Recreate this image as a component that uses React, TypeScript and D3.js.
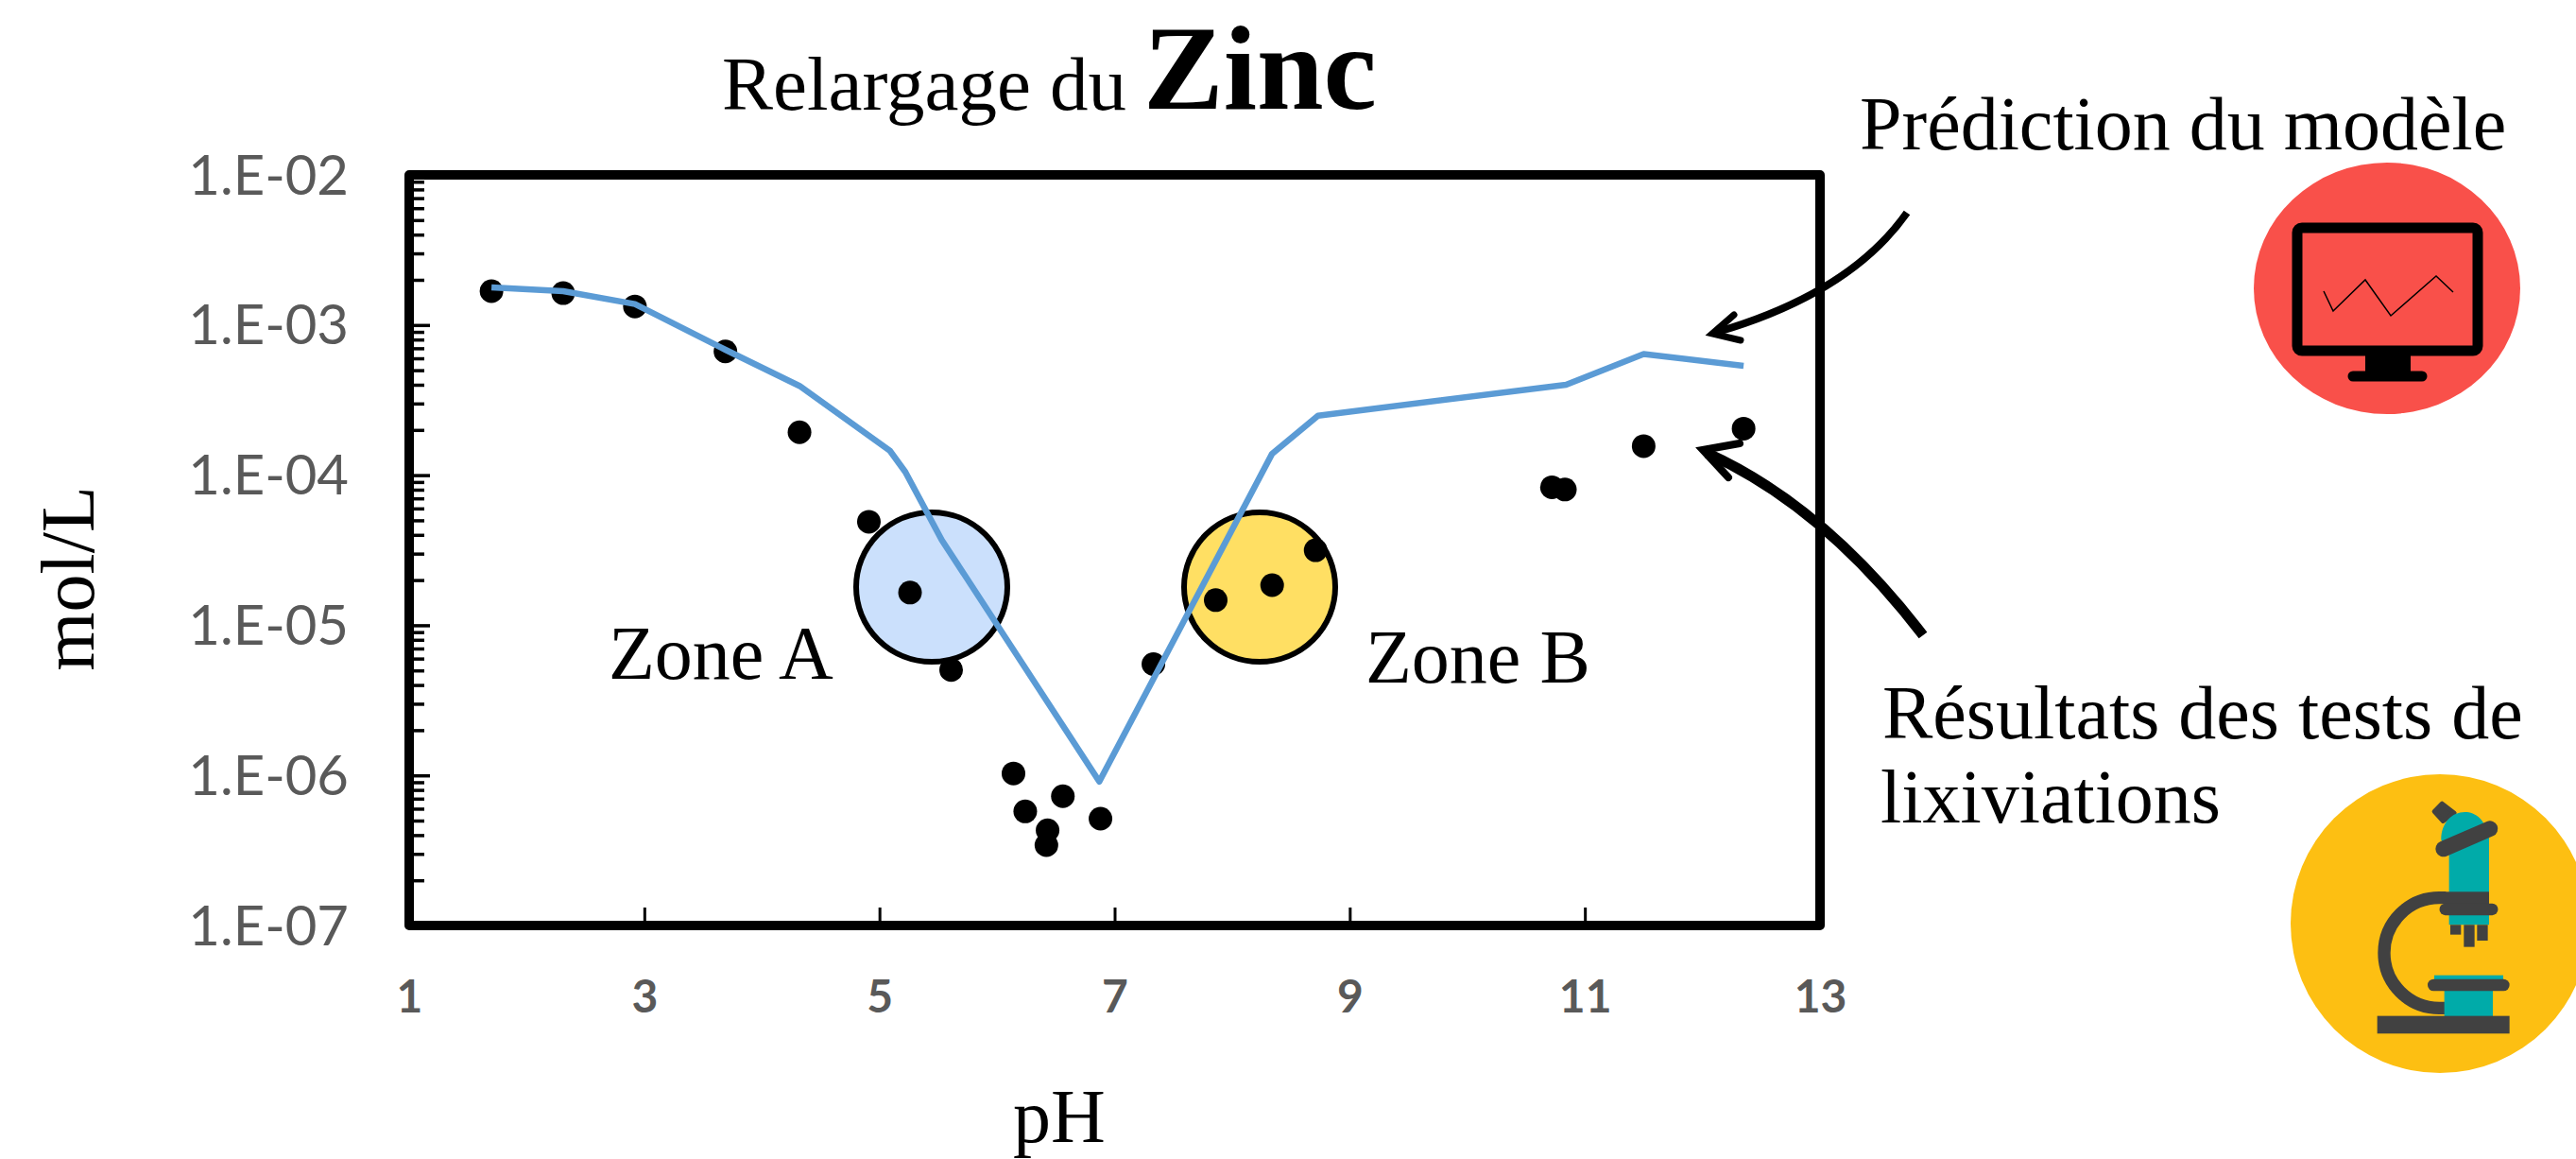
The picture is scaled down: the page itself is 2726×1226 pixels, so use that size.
import { useEffect, useRef } from 'react';
import * as d3 from 'd3';

const W = 2726;
const H = 1226;

// model line (pH, mol/L)
const modelPh = [1.70, 2.31, 2.92, 3.69, 4.32, 5.09, 5.22, 5.53, 6.87, 8.34, 8.73, 10.84, 11.50, 12.35];
const modelConc = [1.78e-3, 1.68e-3, 1.38e-3, 6.84e-4, 3.93e-4, 1.45e-4, 1.05e-4, 3.7e-5, 9.1e-7, 1.39e-4, 2.49e-4, 4.0e-4, 6.4e-4, 5.35e-4];

// leaching tests, drawn under the zone circles
const testPh = [1.70, 2.31, 2.92, 3.69, 4.32, 4.91, 5.61, 6.14, 6.24, 6.43, 6.42, 6.56, 6.88, 7.33, 10.72, 10.83, 11.50, 12.35];
const testConc = [1.68e-3, 1.63e-3, 1.33e-3, 6.67e-4, 1.93e-4, 4.89e-5, 5.04e-6, 1.03e-6, 5.75e-7, 4.31e-7, 3.43e-7, 7.26e-7, 5.15e-7, 5.51e-6, 8.3e-5, 8.02e-5, 1.56e-4, 2.04e-4];

// leaching tests sitting on top of the zone circles
const zoneTestPh = [5.26, 7.86, 8.34, 8.71];
const zoneTestConc = [1.65e-5, 1.47e-5, 1.85e-5, 3.16e-5];

const xTicks = [1, 3, 5, 7, 9, 11, 13];

const serif = '"Liberation Serif", serif';
const tickGrey = '#595959';
const dark = '#414141';
const teal = '#00ABA9';

export default function App() {
  const svgRef = useRef<SVGSVGElement>(null);

  useEffect(() => {
    const svg = d3.select(svgRef.current);
    svg.selectAll('*').remove();

    const left = 433;
    const right = 1926;
    const top = 185;
    const bottom = 979;

    const x = d3.scaleLinear().domain([1, 13]).range([left, right]);
    const y = d3.scaleLog().domain([1e-7, 1e-2]).range([bottom, top]);
    const isMajor = (v: number) => Math.abs(Math.log10(v) - Math.round(Math.log10(v))) < 1e-6;

    // x axis
    const xAxis = svg.append('g')
      .attr('transform', `translate(0,${bottom})`)
      .call(d3.axisBottom(x).tickValues(xTicks).tickSize(-19).tickFormat(d3.format('d')));
    xAxis.select('.domain').remove();
    xAxis.selectAll('line').attr('stroke', '#000').attr('stroke-width', 3);
    xAxis.selectAll('text')
      .attr('y', 92)
      .attr('dy', 0)
      .attr('fill', tickGrey)
      .style('font-family', 'Lato')
      .style('font-weight', 'bold')
      .style('font-size', '48px');

    // y axis, log with minor ticks
    const yAxis = svg.append('g')
      .attr('transform', `translate(${left},0)`)
      .call(d3.axisLeft(y).tickValues(y.ticks()).tickFormat((d: any) =>
        isMajor(d) ? `1.E-0${Math.round(-Math.log10(d))}` : ''));
    yAxis.select('.domain').remove();
    yAxis.selectAll('line')
      .attr('x2', (d: any) => (isMajor(d) ? 22 : 16))
      .attr('stroke', '#000')
      .attr('stroke-width', 3.5);
    yAxis.selectAll('text')
      .attr('x', -64)
      .attr('dy', 20)
      .attr('fill', tickGrey)
      .style('font-family', 'Lato')
      .style('font-size', '58px');

    svg.append('rect')
      .attr('x', left)
      .attr('y', top)
      .attr('width', right - left)
      .attr('height', bottom - top)
      .attr('fill', 'none')
      .attr('stroke', '#000')
      .attr('stroke-width', 10)
      .attr('stroke-linejoin', 'round');

    svg.append('g')
      .selectAll('circle')
      .data(testPh)
      .join('circle')
      .attr('cx', d => x(d))
      .attr('cy', (_, i) => y(testConc[i]))
      .attr('r', 12.5)
      .attr('fill', '#000');

    // zones
    svg.append('ellipse')
      .attr('cx', 986).attr('cy', 621).attr('rx', 80).attr('ry', 79)
      .attr('fill', '#CBE0FC').attr('stroke', '#000').attr('stroke-width', 6);
    svg.append('ellipse')
      .attr('cx', 1333).attr('cy', 621).attr('rx', 80).attr('ry', 79)
      .attr('fill', '#FFDF63').attr('stroke', '#000').attr('stroke-width', 6);

    const line = d3.line<number>()
      .x(d => x(d))
      .y((_, i) => y(modelConc[i]));
    svg.append('path')
      .attr('d', line(modelPh))
      .attr('fill', 'none')
      .attr('stroke', '#5B9BD5')
      .attr('stroke-width', 6.5)
      .attr('stroke-linejoin', 'round');

    svg.append('g')
      .selectAll('circle')
      .data(zoneTestPh)
      .join('circle')
      .attr('cx', d => x(d))
      .attr('cy', (_, i) => y(zoneTestConc[i]))
      .attr('r', 12.5)
      .attr('fill', '#000');

    // callout arrows
    const arrow = (d: string, width: number) => svg.append('path')
      .attr('d', d)
      .attr('fill', 'none')
      .attr('stroke', '#000')
      .attr('stroke-width', width)
      .attr('stroke-linejoin', 'miter')
      .attr('stroke-linecap', 'round');

    const curve1 = d3.path();
    curve1.moveTo(2018, 225);
    curve1.quadraticCurveTo(1958, 310, 1818, 351);
    arrow(curve1.toString(), 8).attr('stroke-linecap', 'butt');
    arrow('M1835,333 L1812,353 L1842,360', 7);

    const curve2 = d3.path();
    curve2.moveTo(2035, 672);
    curve2.quadraticCurveTo(1930, 535, 1806, 479);
    arrow(curve2.toString(), 11).attr('stroke-linecap', 'butt');
    arrow('M1841,469 L1802,476 L1829,505', 8);

    // labels
    const label = (txt: string, lx: number, ly: number, size = 80) => svg.append('text')
      .attr('x', lx)
      .attr('y', ly)
      .attr('fill', '#000')
      .style('font-family', serif)
      .style('font-size', `${size}px`)
      .text(txt);

    label('Relargage du', 764, 116, 81);
    label('Zinc', 1210, 115, 127).style('font-weight', 'bold');
    label('Prédiction du modèle', 1968, 158);
    label('Zone A', 644, 718);
    label('Zone B', 1445, 722);
    label('Résultats des tests de', 1992, 781);
    label('lixiviations', 1990, 870);
    label('pH', 1072, 1208);
    svg.append('text')
      .attr('transform', 'translate(99,612) rotate(-90)')
      .attr('text-anchor', 'middle')
      .style('font-family', serif)
      .style('font-size', '80px')
      .text('mol/L');

    // computer icon
    svg.append('ellipse')
      .attr('cx', 2526).attr('cy', 305).attr('rx', 141).attr('ry', 133)
      .attr('fill', '#F9504A');
    svg.append('rect')
      .attr('x', 2431).attr('y', 241).attr('width', 191).attr('height', 130).attr('rx', 5)
      .attr('fill', 'none').attr('stroke', '#000').attr('stroke-width', 11);
    svg.append('rect')
      .attr('x', 2503).attr('y', 376).attr('width', 48).attr('height', 20).attr('fill', '#000');
    svg.append('line')
      .attr('x1', 2490).attr('x2', 2563).attr('y1', 398).attr('y2', 398)
      .attr('stroke', '#000').attr('stroke-width', 11).attr('stroke-linecap', 'round');
    svg.append('polyline')
      .attr('points', '2459,308 2469,329 2503,296 2530,334 2578,292 2596,309')
      .attr('fill', 'none').attr('stroke', '#000').attr('stroke-width', 1.5);

    // microscope icon, sketched at 3x
    svg.append('ellipse')
      .attr('cx', 2582).attr('cy', 977).attr('rx', 158).attr('ry', 158)
      .attr('fill', '#FDBF12');
    const m = svg.append('g').attr('transform', 'translate(2400,810) scale(0.3333)');
    m.append('polygon')
      .attr('points', '553,120 592,150 556,176 528,145')
      .attr('fill', dark).attr('stroke', dark).attr('stroke-width', 14).attr('stroke-linejoin', 'round');
    m.append('path')
      .attr('d', 'M575,505 V280 L550,235 C550,180 585,147 625,147 C660,147 690,170 702,230 V505 Z')
      .attr('fill', teal);
    m.append('line')
      .attr('x1', 557).attr('y1', 264).attr('x2', 705).attr('y2', 200)
      .attr('stroke', dark).attr('stroke-width', 50).attr('stroke-linecap', 'round');
    m.append('path')
      .attr('d', 'M565,419 H544 A175,175 0 0 0 544,769 H565')
      .attr('fill', 'none').attr('stroke', dark).attr('stroke-width', 40);
    m.append('rect')
      .attr('x', 560).attr('y', 400).attr('width', 142).attr('height', 50).attr('fill', dark);
    m.append('line')
      .attr('x1', 563).attr('y1', 456).attr('x2', 712).attr('y2', 456)
      .attr('stroke', dark).attr('stroke-width', 37).attr('stroke-linecap', 'round');
    [[579, 31], [622, 70], [664, 50]].forEach(([ox, oh]) => {
      m.append('rect')
        .attr('x', ox).attr('y', 505).attr('width', 34).attr('height', oh).attr('fill', dark);
    });
    m.append('rect')
      .attr('x', 528).attr('y', 665).attr('width', 219).attr('height', 20).attr('fill', teal);
    m.append('rect')
      .attr('x', 560).attr('y', 705).attr('width', 154).attr('height', 92).attr('fill', teal);
    m.append('line')
      .attr('x1', 526).attr('y1', 696).attr('x2', 748).attr('y2', 696)
      .attr('stroke', dark).attr('stroke-width', 38).attr('stroke-linecap', 'round');
    m.append('rect')
      .attr('x', 347).attr('y', 794).attr('width', 420).attr('height', 56).attr('fill', dark);
  }, []);

  return (
    <svg
      ref={svgRef}
      width={W}
      height={H}
      style={{ position: 'absolute', left: 0, top: 0, display: 'block', background: '#fff' }}
    />
  );
}
